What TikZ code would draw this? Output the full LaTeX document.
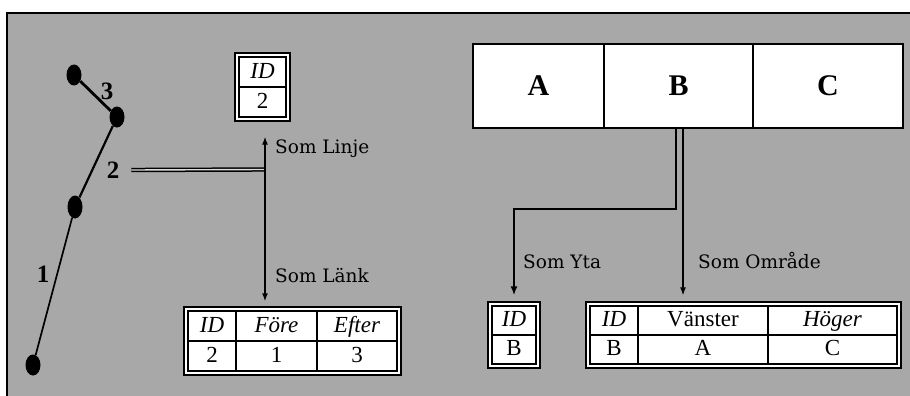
\documentclass[tikz,border=0pt]{standalone}
\usepackage{fontspec}
\setmainfont{Liberation Serif}
\newfontfamily\labfont{DejaVu Serif}
\usetikzlibrary{arrows.meta,fit,shapes.geometric}
\definecolor{bggray}{gray}{0.66}
\pgfdeclarelayer{back}
\pgfsetlayers{back,main}
\begin{document}
\begin{tikzpicture}[x=1pt,y=-1pt,
  cell/.style={draw,line width=1.3pt,fill=white,inner sep=0pt,text height=16pt,text depth=4pt,font=\fontsize{23}{26}\selectfont},
  tabframe/.style={draw,line width=2pt,fill=white,inner sep=3pt},
  seg/.style={ellipse,fill=black,inner sep=0pt,minimum width=15pt,minimum height=21pt},
  num/.style={font=\bfseries\fontsize{25}{27}\selectfont,inner sep=0pt},
  som/.style={font=\labfont\fontsize{18.5}{20}\selectfont,inner sep=0pt,anchor=base west},
  arr/.style={line width=1.3pt,-{Latex[length=8pt,width=6pt]}},
  thickarr/.style={line width=2.4pt,-{Latex[length=9pt,width=7pt]}},
  big/.style={draw,line width=1.8pt,fill=white,minimum height=84pt,inner sep=0pt,font=\bfseries\fontsize{30}{32}\selectfont}
]
\useasboundingbox (0,0) rectangle (910,396);
\begin{pgfonlayer}{back}
  \fill[bggray] (7,13) rectangle (910,396);
\end{pgfonlayer}
\draw[line width=2pt] (7,396) -- (7,13) -- (910,13);

% left: line graph
\node[seg] (p1) at (74,75) {};
\node[seg] (p2) at (117,117) {};
\node[seg,minimum height=23pt] (p3) at (75,207) {};
\node[seg] (p4) at (33,365) {};
\draw[line width=2.8pt] (p1) -- (p2);
\draw[line width=2.2pt] (p2) -- (p3);
\draw[line width=1.7pt] (p3) -- (p4);
\node[num] (n3) at (107,91) {3};
\node[num] (n2) at (113,170) {2};
\node[num] (n1) at (43,274) {1};

% table 1
\node[cell,minimum width=47pt,minimum height=30pt] (t1a) at (262.5,72) {\textit{ID}};
\node[cell,minimum width=47pt,minimum height=30pt] (t1b) at (262.5,102) {2};
% table 2
\node[cell,minimum width=48pt,minimum height=30pt] (t2a) at (212,326) {\textit{ID}};
\node[cell,minimum width=81pt,minimum height=30pt] (t2b) at (276.5,326) {\textit{Före}};
\node[cell,minimum width=80pt,minimum height=30pt] (t2c) at (357,326) {\textit{Efter}};
\node[cell,minimum width=48pt,minimum height=30pt] (t2d) at (212,356) {2};
\node[cell,minimum width=81pt,minimum height=30pt] (t2e) at (276.5,356) {1};
\node[cell,minimum width=80pt,minimum height=30pt] (t2f) at (357,356) {3};
% table 3
\node[cell,minimum width=44pt,minimum height=29pt] (t3a) at (514,320.5) {\textit{ID}};
\node[cell,minimum width=44pt,minimum height=29pt] (t3b) at (514,349.5) {B};
% table 4
\node[cell,minimum width=48pt,minimum height=29pt] (t4a) at (614,320.5) {\textit{ID}};
\node[cell,minimum width=130pt,minimum height=29pt] (t4b) at (703,320.5) {Vänster};
\node[cell,minimum width=129pt,minimum height=29pt] (t4c) at (832.5,320.5) {\textit{Höger}};
\node[cell,minimum width=48pt,minimum height=29pt] (t4d) at (614,349.5) {B};
\node[cell,minimum width=130pt,minimum height=29pt] (t4e) at (703,349.5) {A};
\node[cell,minimum width=129pt,minimum height=29pt] (t4f) at (832.5,349.5) {C};

\begin{pgfonlayer}{back}
  \node[tabframe,fit=(t1a)(t1b)] (tab1) {};
  \node[tabframe,fit=(t2a)(t2f)] (tab2) {};
  \node[tabframe,fit=(t3a)(t3b)] (tab3) {};
  \node[tabframe,fit=(t4a)(t4f)] (tab4) {};
\end{pgfonlayer}

% A B C
\node[big,minimum width=131pt] (cA) at (538.5,86) {A};
\node[big,minimum width=149pt] (cB) at (678.5,86) {B};
\node[big,minimum width=150pt] (cC) at (828,86) {C};

% connectors left
\coordinate (j) at (265,169.5);
\draw[line width=1.5pt,double=bggray!40!white,double distance=1.4pt] ([xshift=12pt]n2.east) -- (j);
\draw[arr,shorten >=15pt] (j) -- (j |- tab1.south);
\draw[arr,shorten >=5pt] (j) -- (j |- tab2.north);
\node[som] (lLinje) at (275,153) {Som Linje};
\node[som] (lLank) at (275,282) {Som Länk};

% connectors right
\coordinate (yk) at (514,209);
\draw[thickarr,shorten >=6pt] ([xshift=-2.5pt]cB.south) |- (yk) -- (tab3.north);
\draw[arr,shorten >=6pt] ([xshift=4.5pt]cB.south) -- ([xshift=4.5pt]cB.south |- tab4.north);
\node[som] (lYta) at (523,268) {Som Yta};
\node[som] (lOmr) at (698,268) {Som Område};
\end{tikzpicture}
\end{document}
